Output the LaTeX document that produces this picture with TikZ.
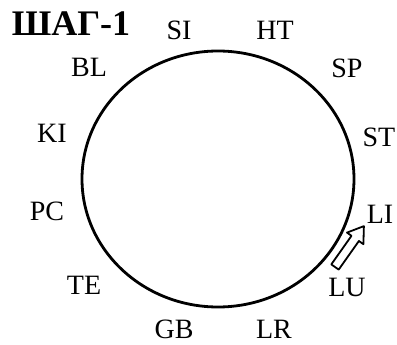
\documentclass[tikz,border=0pt]{standalone}
\usepackage{fontspec}
\setmainfont{Liberation Serif}

\tikzset{every node/.style={inner sep=0pt, font=\fontsize{28}{32}\selectfont}}

\begin{document}
\begin{tikzpicture}[x=1pt, y=-1pt, line join=round]
		\useasboundingbox (0,0) rectangle (397,345);
		
		% Draw the title
		\node[font=\fontsize{36}{40}\selectfont\bfseries] (title) at (71,24) {ШАГ-1};
		
		% Draw the circle
		\draw[line width=2.8pt] (218,179) ellipse [x radius=136pt, y radius=128pt];
		
		% Draw the labels
		\node (SI) at (179,30) {SI};
		\node (HT) at (275,30) {HT};
		\node (SP) at (347,68) {SP};
		\node (ST) at (379,137) {ST};
		\node (LI) at (380,214) {LI};
		\node (LU) at (347,287) {LU};
		\node (LR) at (274,329) {LR};
		\node (GB) at (174,329) {GB};
		\node (TE) at (84,285) {TE};
		\node (PC) at (47,211) {PC};
		\node (KI) at (52,133) {KI};
		\node (BL) at (89,67) {BL};
		
		% Draw the hollow arrow
		\draw[line width=1.8pt, fill=white] (331.3,264.4) -- (351.5,235.8) -- (347.0,232.6)
			-- (363.9,226.1) -- (363.4,244.2) -- (358.9,241.0) -- (338.7,269.6) -- cycle;
	\end{tikzpicture}
\end{document}
